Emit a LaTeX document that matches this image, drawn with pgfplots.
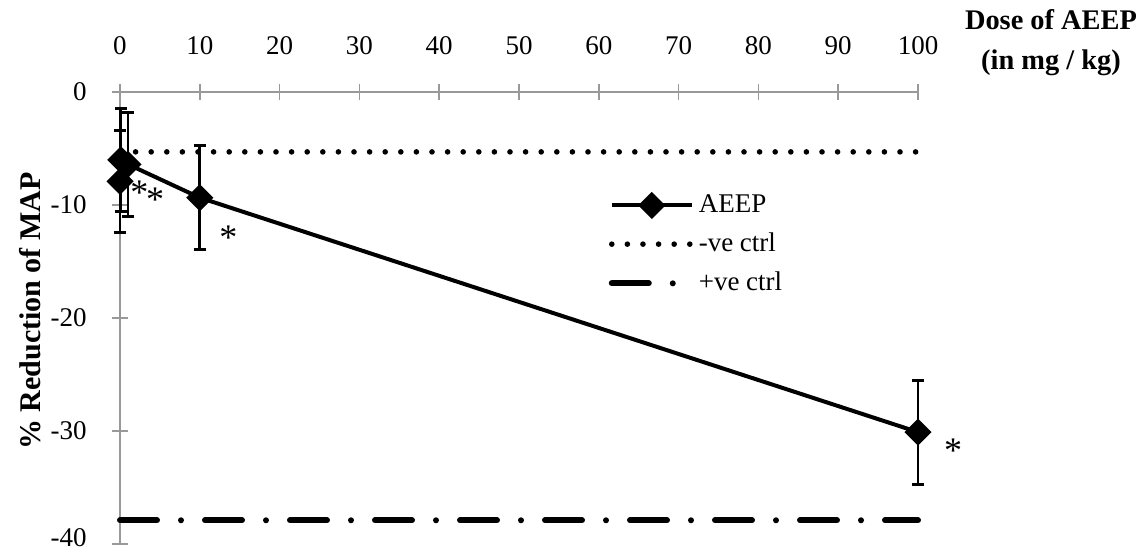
\documentclass[border=0pt]{standalone}
\usepackage{fontspec}
\setmainfont{Liberation Serif}
\usepackage{pgfplots}
\usepackage{pgfplotstable}
\pgfplotsset{compat=1.18}
\pgfplotstableread{
x y e
0.01 -7.9 4.5
0.1 -6.0 4.55
1 -6.4 4.6
10 -9.35 4.6
100 -30.1 4.6
}\aeep
\begin{document}
\fontsize{13.5pt}{16pt}\selectfont
\begin{tikzpicture}
\begin{axis}[
  scale only axis, width=399pt, height=226pt,
  xmin=0, xmax=100, ymin=-40, ymax=0,
  axis x line*=top, axis y line*=left,
  axis line style={color=black!40, line width=0.8pt},
  xtick={0,10,...,100}, ytick={-30,-20,...,0},
  extra y ticks={-40},
  extra y tick style={yticklabel style={yshift=3pt}},
  tick align=center, major tick length=8pt,
  tick style={color=black!40, line width=0.8pt},
  /pgf/number format/assume math mode=true,
  ticklabel style={font=\fontsize{13.5pt}{16pt}\selectfont},
  xticklabel style={yshift=10pt},
  yticklabel style={xshift=-8pt},
  clip=false,
  legend style={at={(rel axis cs:0.612,0.783)}, anchor=north west, draw=none, fill=none,
    font=\fontsize{13.5pt}{16pt}\selectfont, inner sep=0pt, nodes={inner sep=2pt}, row sep=4.2pt},
  legend cell align=left,
  legend image code/.code={\draw[mark repeat=2,mark phase=2,#1] plot coordinates {(0pt,0pt) (20pt,0pt) (40pt,0pt)};},
]
\addplot[black, line width=2pt, mark=square*, mark size=3.8pt, mark options={rotate=45, solid},
  error bars/.cd, y dir=both, y explicit,
  error bar style={line width=1.4pt, black},
  error mark=-,
  error mark options={rotate=90, mark size=3pt, line width=1.4pt, black}]
  table[x=x, y=y, y error=e] {\aeep};
\addlegendentry{AEEP}
\addplot[black, line width=2.8pt, line cap=round, dash pattern=on 0pt off 7.8pt]
  coordinates {(0,-5.3) (100,-5.3)};
\addlegendentry{-ve ctrl}
\addplot[black, line width=3pt, line cap=round, dash pattern=on 18.5pt off 12pt on 0pt off 12pt]
  coordinates {(0,-37.9) (100,-37.9)};
\addlegendentry{+ve ctrl}
\node[font=\fontsize{18pt}{20pt}\selectfont, yshift=-3.5pt] at (axis cs:2.42,-8.29) {*};
\node[font=\fontsize{18pt}{20pt}\selectfont, yshift=-3.5pt] at (axis cs:4.39,-8.94) {*};
\node[font=\fontsize{18pt}{20pt}\selectfont, yshift=-3.5pt] at (axis cs:13.57,-12.27) {*};
\node[font=\fontsize{18pt}{20pt}\selectfont, yshift=-3.5pt] at (axis cs:104.4,-31.15) {*};
\end{axis}
\node[rotate=90, font=\fontsize{15pt}{18pt}\selectfont\bfseries] at (-45pt,116.5pt) {\% Reduction of MAP};
\node[align=center, font=\fontsize{14.2pt}{20pt}\selectfont\bfseries] at (465.5pt,250.5pt) {Dose of AEEP\\(in mg / kg)};
\pgfresetboundingbox
\path (-60pt,-4.5pt) rectangle (512pt,272pt);
\end{tikzpicture}
\end{document}
